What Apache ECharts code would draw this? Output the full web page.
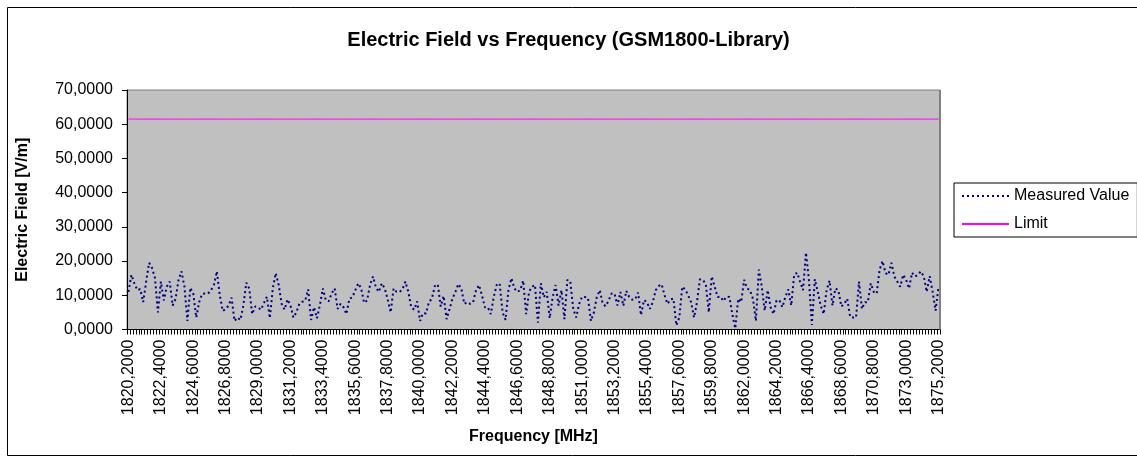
<!DOCTYPE html>
<html>
<head>
<meta charset="utf-8">
<title>Electric Field vs Frequency</title>
<script src="https://cdn.jsdelivr.net/npm/echarts@6/dist/echarts.min.js"></script>
<style>
  html, body { margin: 0; padding: 0; background: #fff; }
  #main { width: 1137px; height: 463px; }
</style>
</head>
<body>
<div id="main"></div>
<script>
// frequency axis: 1820,2 .. 1875,2 MHz in 0,2 MHz steps
var freqStart = 1820.2;
var freqStep = 0.2;
var freqCount = 276;

// measured electric field [V/m]
var measured = [
  11, 16, 13.5, 11.5, 11.8, 8, 14, 19.5, 18, 15,
  5, 14, 8.5, 12.5, 14, 7, 9, 14.5, 17, 12.5,
  2.5, 12.2, 10.5, 3.5, 8, 10.4, 10.5, 10.5, 11.5, 13,
  17, 10, 5.4, 6, 7, 9.3, 2.5, 3.5, 2.8, 7,
  13.7, 12, 4.5, 6.7, 6.5, 5.8, 7.8, 9.6, 3.3, 12,
  16.5, 13, 7.5, 5.8, 8.8, 7, 3.5, 5, 7.5, 8.1,
  8.5, 11.7, 2.8, 6.5, 3.3, 7.2, 12, 8.5, 8.3, 10.6,
  12, 6, 7.5, 6.5, 4.5, 9, 9.4, 11.5, 13.5, 12,
  7.8, 8.5, 13, 15.5, 12.3, 11, 13.5, 12, 8.8, 5,
  12, 11, 11, 11.7, 14, 11, 6.5, 5.8, 8.2, 2.5,
  4.8, 4.7, 8, 9, 12.7, 13.2, 6.7, 9.8, 3, 6,
  9, 11, 13.3, 12, 7.5, 8, 7.5, 8, 11.5, 13,
  10, 6.5, 6.5, 4.5, 9.5, 13, 13.5, 5, 2.8, 11.5,
  15, 12, 11, 11.5, 14.3, 4.5, 11, 12.5, 13, 2,
  13.5, 9.4, 11, 3.3, 9.4, 13, 7, 11.5, 3, 14.5,
  14, 6, 3.5, 7.5, 9.6, 9.5, 9.2, 2.5, 5, 9.5,
  11.5, 7.5, 6.8, 8.5, 10.5, 10.5, 7, 11, 6.9, 11.3,
  9.5, 8.7, 8.8, 10.8, 4.2, 8.6, 8, 6, 8, 11.5,
  12.7, 13.2, 10, 7.5, 8.8, 9, 1.2, 3.5, 12.5, 11.7,
  10, 8, 3.5, 8, 14.7, 14.5, 13.3, 5, 15.5, 12.5,
  9.5, 9.6, 8.3, 9.6, 9.5, 4.5, 0.3, 9, 8, 14.5,
  12, 11.5, 9, 2.5, 17.5, 12.5, 5.5, 11.5, 6.5, 4.5,
  8.5, 8.5, 6.5, 9.5, 11.7, 7, 16, 16.6, 14, 11.5,
  22.5, 14.5, 1.3, 14.7, 11, 7, 4.5, 11.5, 14.3, 7,
  12, 11.5, 6.7, 7.5, 9, 3.7, 3.5, 3.5, 14, 6,
  8, 8, 13.5, 11, 10.5, 17.5, 20, 16.5, 16, 19.5,
  15.5, 14, 12.5, 16, 14.5, 12, 16.6, 15.5, 16, 17,
  15.5, 11, 15.6, 11, 5.5, 12.5
];

// limit [V/m], flat over the whole band
var limitValue = 61.5;

var categories = [];
var limit = [];
for (var i = 0; i < freqCount; i++) {
  categories.push((freqStart + i * freqStep).toFixed(4).replace('.', ','));
  limit.push(limitValue);
}

var font = 'Liberation Sans, Arial, sans-serif';

function fmt(v) {
  return Number(v).toFixed(4).replace('.', ',');
}

var chart = echarts.init(document.getElementById('main'));

chart.setOption({
  backgroundColor: '#fff',
  animation: false,
  textStyle: { fontFamily: font },
  title: {
    text: 'Electric Field vs Frequency (GSM1800-Library)',
    left: 'center',
    top: 25,
    textStyle: { fontFamily: font, fontSize: 20, fontWeight: 'bold', color: '#000' }
  },
  legend: {
    orient: 'vertical',
    left: 954,
    top: 183,
    padding: [5, 8, 5, 7],
    itemWidth: 47,
    itemHeight: 16,
    itemGap: 12,
    borderColor: '#000',
    borderWidth: 1,
    backgroundColor: '#fff',
    itemStyle: { opacity: 0 },
    textStyle: { fontFamily: font, fontSize: 16, color: '#000' },
    data: ['Measured Value', 'Limit']
  },
  graphic: [{
    type: 'rect',
    z: -10,
    shape: { x: 7.5, y: 7.5, width: 1140, height: 448 },
    style: { fill: 'none', stroke: '#000', lineWidth: 1 }
  }, {
    // thicker grey right edge of the plot area, as in the original
    type: 'line',
    z: 10,
    shape: { x1: 940, y1: 90, x2: 940, y2: 329.5 },
    style: { stroke: '#808080', lineWidth: 2 }
  }],
  grid: {
    left: 127,
    top: 90,
    right: 197,
    bottom: 133.5,
    show: true,
    backgroundColor: '#C0C0C0',
    borderColor: '#808080',
    borderWidth: 1
  },
  xAxis: {
    type: 'category',
    data: categories,
    boundaryGap: true,
    name: 'Frequency [MHz]',
    nameLocation: 'middle',
    nameGap: 99,
    nameTextStyle: { fontFamily: font, fontSize: 16, fontWeight: 'bold', color: '#000' },
    axisLine: { lineStyle: { color: '#000', width: 1 } },
    axisTick: { show: true, interval: 0, length: 5, lineStyle: { color: '#000' } },
    axisLabel: {
      interval: 10,
      rotate: 90,
      margin: 10,
      fontFamily: font,
      fontSize: 16,
      color: '#000'
    },
    splitLine: { show: false }
  },
  yAxis: {
    type: 'value',
    min: 0,
    max: 70,
    interval: 10,
    name: 'Electric Field [V/m]',
    nameLocation: 'middle',
    nameRotate: 90,
    nameGap: 96,
    nameTextStyle: { fontFamily: font, fontSize: 16, fontWeight: 'bold', color: '#000' },
    axisLine: { show: true, lineStyle: { color: '#000', width: 1 } },
    axisTick: { show: true, length: 5, lineStyle: { color: '#000' } },
    axisLabel: {
      margin: 14,
      fontFamily: font,
      fontSize: 16,
      color: '#000',
      formatter: fmt
    },
    splitLine: { show: false }
  },
  series: [
    {
      name: 'Measured Value',
      type: 'line',
      data: measured,
      symbol: 'none',
      showSymbol: false,
      lineStyle: { color: '#000080', width: 2, type: [2, 3] },
      itemStyle: { color: '#000080' }
    },
    {
      name: 'Limit',
      type: 'line',
      data: limit,
      symbol: 'none',
      showSymbol: false,
      lineStyle: { color: '#FF00FF', width: 1, type: 'solid' },
      itemStyle: { color: '#FF00FF' }
    }
  ]
});
</script>
</body>
</html>
